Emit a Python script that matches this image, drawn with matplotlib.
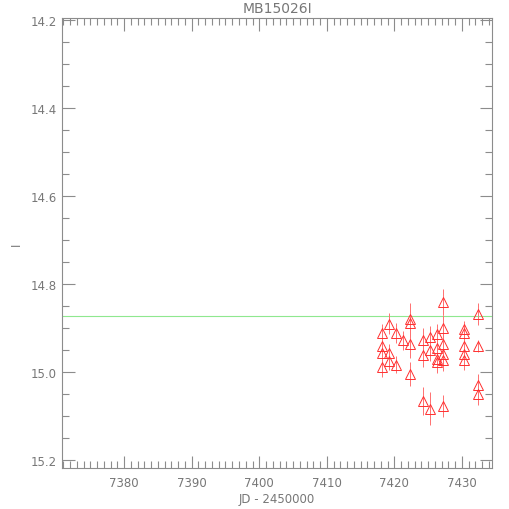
import matplotlib
matplotlib.use("Agg")
import matplotlib.pyplot as plt
from matplotlib.ticker import MultipleLocator

title = "MB15026I"
xlabel = "JD - 2450000"
ylabel = "I"

jd = [7418.13, 7418.13, 7418.13, 7418.13,
      7419.17, 7419.17, 7419.17,
      7420.18, 7420.18,
      7421.28,
      7422.24, 7422.24, 7422.24, 7422.24,
      7424.24, 7424.24, 7424.24,
      7425.25, 7425.25, 7425.25,
      7426.32, 7426.32, 7426.32, 7426.32,
      7427.26, 7427.26, 7427.26, 7427.26, 7427.26, 7427.26,
      7430.25, 7430.25, 7430.25, 7430.25, 7430.25,
      7432.34, 7432.34, 7432.34, 7432.34]
mag = [14.911, 14.940, 14.957, 14.989,
       14.890, 14.957, 14.974,
       14.911, 14.983,
       14.928,
       14.879, 14.888, 14.937, 15.004,
       14.926, 14.960, 15.065,
       14.921, 14.949, 15.083,
       14.914, 14.946, 14.970, 14.977,
       14.841, 14.899, 14.936, 14.958, 14.972, 15.077,
       14.902, 14.911, 14.940, 14.958, 14.973,
       14.868, 14.940, 15.030, 15.049]
err = [0.020, 0.022, 0.020, 0.021,
       0.024, 0.020, 0.022,
       0.022, 0.020,
       0.021,
       0.035, 0.030, 0.030, 0.028,
       0.026, 0.028, 0.032,
       0.025, 0.025, 0.038,
       0.024, 0.022, 0.030, 0.025,
       0.030, 0.028, 0.025, 0.025, 0.026, 0.026,
       0.018, 0.020, 0.022, 0.020, 0.022,
       0.024, 0.014, 0.025, 0.025]
baseline = 14.873

xlim = (7370.8, 7434.45)
ylim = (15.218, 14.195)

fig = plt.figure(figsize=(5.1, 5.1), dpi=100)
ax = fig.add_axes([62/510, 1-469/510, (492-62)/510, (469-19)/510])

grey = "#8c8c8c"
ax.axhline(baseline, color="#8fe88f", lw=0.8, zorder=1)
ax.errorbar(jd, mag, yerr=err, fmt="none", ecolor="#ff7070", elinewidth=0.7, capsize=0, zorder=2)
ax.plot(jd, mag, linestyle="none", marker="^", markersize=7, markerfacecolor="none",
        markeredgecolor="#ff3030", markeredgewidth=0.7, zorder=3)

ax.set_xlim(*xlim)
ax.set_ylim(*ylim)
ax.xaxis.set_major_locator(MultipleLocator(10))
ax.xaxis.set_minor_locator(MultipleLocator(1))
ax.yaxis.set_major_locator(MultipleLocator(0.2))
ax.yaxis.set_minor_locator(MultipleLocator(0.05))
ax.yaxis.set_major_formatter(plt.FuncFormatter(lambda v, p: f"{v:.1f}"))
ax.tick_params(which="both", direction="in", top=True, right=True, color=grey,
               labelcolor="#777777", labelsize=8.5, width=0.8)
ax.tick_params(which="major", length=9)
ax.tick_params(which="minor", length=5)
ax.tick_params(axis="x", pad=6)
for s in ax.spines.values():
    s.set_color(grey)
    s.set_linewidth(0.8)

ax.set_title(title, color="#777777", fontsize=10, pad=4)
ax.set_xlabel(xlabel, color="#777777", fontsize=8.5, labelpad=2)
ax.set_ylabel(ylabel, color="#777777", fontsize=8.5)
ax.yaxis.set_label_coords((23 - 62) / 430, 0.5)

fig.savefig("out.png", dpi=100)
